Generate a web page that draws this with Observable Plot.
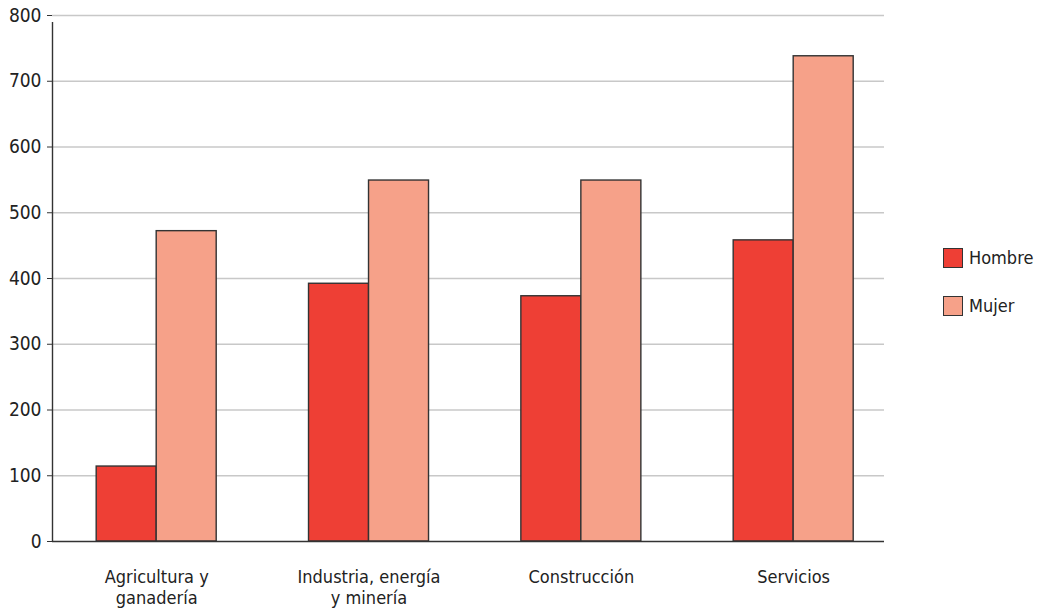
<!DOCTYPE html>
<html>
<head>
<meta charset="utf-8">
<script src="https://cdn.jsdelivr.net/npm/d3@7"></script>
<script src="https://cdn.jsdelivr.net/npm/@observablehq/plot@0.6"></script>
<style>
  html, body { margin: 0; padding: 0; background: #fff; }
  #wrap { position: relative; width: 1044px; height: 614px; font-family: "Liberation Sans Narrow", "DejaVu Sans Condensed", "Roboto", sans-serif; }
  .legend { position: absolute; left: 943px; font-size: 18px; color: #222; display: flex; align-items: center; }
  .sw { width: 20px; height: 20px; border: 1.5px solid #333; margin-right: 6px; box-sizing: border-box; }
</style>
</head>
<body>
<div id="wrap"></div>
<script>
const categorias = ["Agricultura y\nganadería", "Industria, energía\ny minería", "Construcción", "Servicios"];
const series = ["Hombre", "Mujer"];
const hombre = [114, 392, 373, 458];
const mujer = [472, 549, 549, 738];
const yTicks = [0, 100, 200, 300, 400, 500, 600, 700, 800];
const colores = ["#ee3f35", "#f6a189"];

const anchoBarra = 0.2826;
const datos = [];
categorias.forEach((c, i) => {
  datos.push({i, serie: "Hombre", valor: hombre[i], x1: i - anchoBarra, x2: i});
  datos.push({i, serie: "Mujer", valor: mujer[i], x1: i, x2: i + anchoBarra});
});

const font = '"Liberation Sans Narrow", "DejaVu Sans Condensed", "Roboto", sans-serif';

const chart = Plot.plot({
  width: 1044,
  height: 614,
  marginLeft: 52,
  marginRight: 160,
  marginTop: 15,
  marginBottom: 73,
  style: {fontFamily: font, fontSize: "19px", color: "#222", background: "#fff"},
  x: {type: "linear", domain: [-0.4907, 3.4277]},
  y: {domain: [0, 800]},
  color: {domain: series, range: colores},
  marks: [
    Plot.ruleY(yTicks.filter(d => d > 0), {stroke: "#c8c8c8", strokeWidth: 1.3}),
    Plot.rectY(datos, {x1: "x1", x2: "x2", y1: 0, y2: "valor", fill: "serie", stroke: "#333", strokeWidth: 1.4}),
    Plot.ruleY([0], {stroke: "#333", strokeWidth: 1.4}),
    Plot.ruleX([-0.4907], {y1: 0, y2: 800, stroke: "#333", strokeWidth: 1.4, insetBottom: -7}),
    Plot.axisY({ticks: yTicks, tickSize: 5, tickPadding: 6, stroke: "#333", label: null, fontSize: 19}),
    Plot.axisX({ticks: [0, 1, 2, 3], tickFormat: i => categorias[i], tickSize: 0, tickPadding: 26, label: null, fontSize: 18, lineHeight: 1.2})
  ]
});

const wrap = document.getElementById("wrap");
wrap.appendChild(chart);
const tops = [247, 295];
series.forEach((s, k) => {
  const d = document.createElement("div");
  d.className = "legend";
  d.style.top = tops[k] + "px";
  d.innerHTML = `<div class="sw" style="background:${colores[k]}"></div><span>${s}</span>`;
  wrap.appendChild(d);
});
</script>
</body>
</html>
